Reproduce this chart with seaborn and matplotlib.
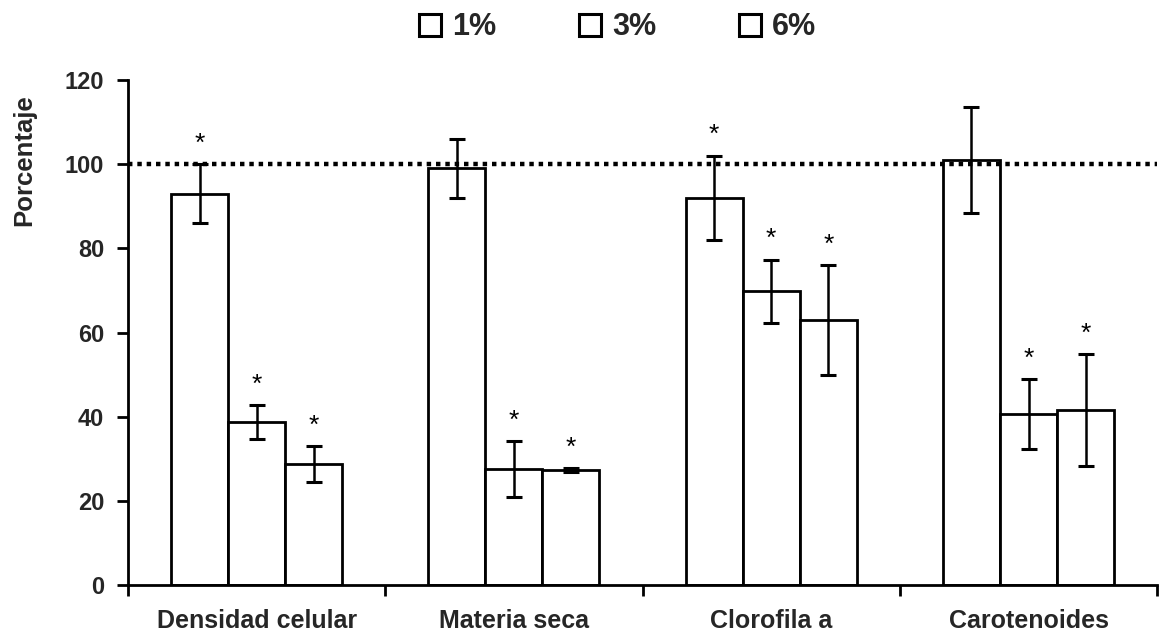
import matplotlib
matplotlib.use("Agg")
import matplotlib.pyplot as plt
from matplotlib.patches import Patch
import seaborn as sns
import pandas as pd

categorias = ["Densidad celular", "Materia seca", "Clorofila a", "Carotenoides"]
series = ["1%", "3%", "6%"]
valores_1 = [93.0, 99.0, 92.0, 101.0]
valores_3 = [38.7, 27.5, 69.8, 40.6]
valores_6 = [28.7, 27.3, 63.0, 41.5]
error_1 = [7.0, 7.0, 10.0, 12.5]
error_3 = [4.0, 6.7, 7.5, 8.4]
error_6 = [4.3, 0.4, 13.0, 13.3]
asterisco_1 = [True, False, True, False]
asterisco_3 = [True, True, True, True]
asterisco_6 = [True, True, True, True]
referencia = 100
y_ticks = [0, 20, 40, 60, 80, 100, 120]

valores = [valores_1, valores_3, valores_6]
errores = [error_1, error_3, error_6]
asteriscos = [asterisco_1, asterisco_3, asterisco_6]

rows = []
for s, vals in zip(series, valores):
    for c, v in zip(categorias, vals):
        rows.append({"categoria": c, "serie": s, "valor": v})
df = pd.DataFrame(rows)

sns.set_theme(style="white")
plt.rcParams["font.family"] = ["Liberation Sans", "DejaVu Sans"]

fig = plt.figure(figsize=(11.63, 6.36), dpi=100)
ax = fig.add_axes([0.110, 0.0802, 0.885, 0.794])

sns.barplot(data=df, x="categoria", y="valor", hue="serie", order=categorias,
            hue_order=series, palette=["white"] * 3, edgecolor="black",
            linewidth=2.0, width=0.665, gap=0, errorbar=None, legend=False,
            saturation=1, ax=ax)

for cont, errs, asts in zip(ax.containers, errores, asteriscos):
    for bar, e, a in zip(cont, errs, asts):
        xc = bar.get_x() + bar.get_width() / 2
        h = bar.get_height()
        ax.errorbar(xc, h, yerr=e, fmt="none", ecolor="black", elinewidth=1.8,
                    capsize=6, capthick=2.2, zorder=5)
        if a:
            ax.text(xc, h + e + 2.0, "*", ha="center", va="bottom",
                    fontsize=19, color="black")

ax.axhline(referencia, color="black", linewidth=3.2, linestyle=(0, (1, 1.1)),
           zorder=6)

ax.set_xlim(-0.5, 3.5)
ax.set_ylim(0, 120)
ax.set_yticks(y_ticks)
ax.set_yticklabels([str(t) for t in y_ticks], fontsize=17, fontweight="bold")
ax.set_xticks(range(len(categorias)))
ax.set_xticklabels(categorias, fontsize=18, fontweight="bold")
ax.set_xticks([-0.5, 0.5, 1.5, 2.5, 3.5], minor=True)
ax.tick_params(axis="x", which="major", length=0, pad=17)
ax.tick_params(axis="x", which="minor", length=8, width=2, direction="out",
               color="black", bottom=True)
ax.tick_params(axis="y", which="major", length=8, width=2, direction="out",
               color="black", left=True, pad=9)
ax.set_xlabel("")
ax.set_ylabel("Porcentaje", fontsize=18.5, fontweight="bold")
ax.yaxis.set_label_coords(-0.089, 0.842)

sns.despine(ax=ax, top=True, right=True)
for side in ["left", "bottom"]:
    ax.spines[side].set_color("black")
    ax.spines[side].set_linewidth(2.0)

handles = [Patch(facecolor="white", edgecolor="black", linewidth=2.2, label=s)
           for s in series]
fig.legend(handles=handles, loc="center", bbox_to_anchor=(0.531, 0.957),
           ncol=3, frameon=False, handlelength=0.72, handleheight=0.72,
           handletextpad=0.36, columnspacing=2.7,
           prop={"size": 22, "weight": "bold"})

fig.savefig("out.png", dpi=100, facecolor="white")
